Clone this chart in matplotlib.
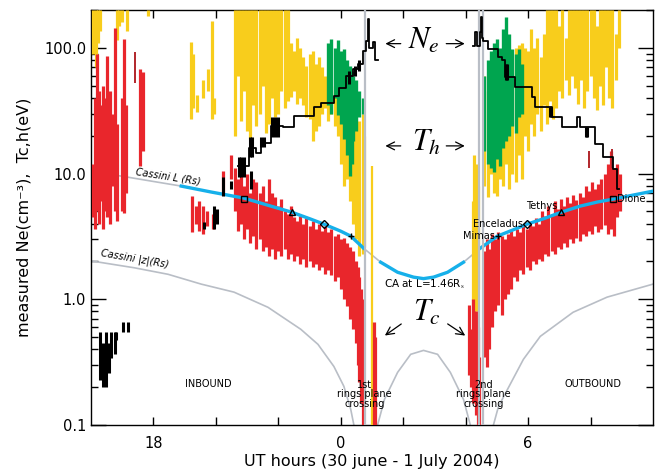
"""Cassini SOI pass: electron density and temperatures vs UT, with L and |z| shells."""

import matplotlib.pyplot as plt
from matplotlib.ticker import FixedLocator, LogLocator, NullFormatter

plt.rcParams["mathtext.fontset"] = "stix"

YELLOW = "#f8cd1c"
GREEN = "#00a54f"
RED = "#e9262c"
DARKRED = "#b1262b"
CYAN = "#16b0ea"
GREY = "#b9bec6"

# time = hours since 00 UT 30 June 2004 (24 -> 00 UT 1 July)

# Cassini L shell (Rs)
L_T = [16.0, 16.97, 17.93, 18.89, 19.85, 20.90, 21.76, 22.43, 23.04, 23.46, 24.0,
       24.32, 24.73, 25.28, 25.82, 26.33, 26.65, 26.97, 27.42, 27.93, 28.47, 29.02,
       29.50, 29.97, 30.55, 31.06, 31.67, 32.21, 32.72, 33.36, 34.0]
L_RS = [10.28, 9.55, 8.71, 7.95, 7.13, 6.38, 5.51, 4.93, 4.34, 3.96, 3.48,
        3.18, 2.55, 1.97, 1.64, 1.50, 1.46, 1.50, 1.64, 1.97, 2.55, 3.18,
        3.55, 3.96, 4.42, 4.93, 5.51, 5.93, 6.26, 6.74, 7.25]
CYAN_SPANS = [(18.8, 24.75), (25.2, 27.95), (28.45, 34.1)]

# Cassini |z| (Rs), three arcs between ring plane crossings
Z_IN_T = [16.0, 17.39, 18.47, 19.53, 20.58, 21.67, 22.72, 23.27, 23.78, 24.10, 24.32, 24.42, 24.5]
Z_IN = [2.02, 1.78, 1.58, 1.32, 1.14, 0.863, 0.577, 0.438, 0.292, 0.203, 0.133, 0.10, 0.07]
Z_MID_T = [25.1, 25.18, 25.4, 25.82, 26.24, 26.65, 27.10, 27.51, 27.93, 28.15, 28.22]
Z_MID = [0.07, 0.10, 0.16, 0.262, 0.365, 0.392, 0.365, 0.262, 0.16, 0.10, 0.07]
Z_OUT_T = [28.82, 28.89, 29.05, 29.34, 29.85, 30.39, 31.44, 32.53, 34.0]
Z_OUT = [0.07, 0.10, 0.14, 0.192, 0.333, 0.507, 0.788, 1.04, 1.32]

CROSSING_T = [24.78, 28.44, 28.57]

# moons on the L curve
MOONS = ["Dione", "Tethys", "Enceladus", "Mimas"]
MOON_MARK = ["s", "^", "D", "+"]
MOON_L = [6.3, 4.93, 3.96, 3.18]
MOON_T_IN = [20.90, 22.43, 23.46, 24.32]
MOON_T_OUT = [32.72, 31.06, 29.97, 29.02]

# hot electron temperature Th, yellow (time, low, high)
YEL_T = [16.08, 16.15, 16.22, 16.30, 16.84, 16.90, 17.00, 17.15, 17.83,
         19.21, 19.28, 19.40, 19.58, 19.74, 19.88, 19.94,
         20.6, 20.7, 20.8, 20.9, 21.0, 21.1, 21.2, 21.3, 21.4, 21.5, 21.6, 21.7, 21.8,
         21.9, 22.0, 22.1, 22.2, 22.3, 22.4, 22.5, 22.6, 22.7, 22.8, 22.9, 23.0, 23.1,
         23.2, 23.3, 23.4, 23.5, 23.6, 23.7, 23.8, 23.9, 24.0, 24.1, 24.2, 24.3, 24.4,
         24.5, 24.6, 24.7, 24.75,
         28.22, 28.28, 28.34, 28.40,
         28.6, 28.7, 28.8, 28.9, 29.0, 29.1, 29.2, 29.3, 29.4, 29.5, 29.6, 29.7, 29.8,
         29.9, 30.0, 30.1, 30.2, 30.3, 30.4, 30.5, 30.6, 30.7, 30.8, 30.9, 31.0, 31.1,
         31.2, 31.3, 31.4, 31.5, 31.6, 31.7, 31.8, 31.9, 32.0, 32.1, 32.2, 32.3, 32.4,
         32.5, 32.6, 32.7, 32.8, 32.9]
YEL_LO = [90, 70, 110, 135, 115, 150, 160, 135, 180,
          27, 33, 31, 40, 45, 27, 30,
          20, 60, 26, 45, 22, 19, 35, 24, 30, 50, 21, 25, 40,
          28, 30, 45, 33, 38, 41, 45, 36, 40, 35, 28, 27, 18,
          22, 24, 30, 33, 26, 30, 24, 20, 12, 8, 9, 6, 4,
          3, 2.2, 2.3, 2.6,
          0.9, 0.73, 0.8, 1.2,
          8, 6.5, 10, 7, 6.6, 9, 8, 12, 7.5, 10, 8.5, 14, 9,
          20, 15, 25, 20, 30, 22, 35, 25, 38, 27, 33, 45, 40,
          55, 42, 60, 48, 36, 55, 33, 45, 60, 40, 32, 50, 35,
          70, 40, 33, 55, 100]
YEL_HI = [200, 200, 200, 200, 200, 200, 200, 200, 200,
          112, 90, 42, 55, 68, 165, 40,
          200, 200, 200, 200, 200, 200, 200, 200, 200, 200, 200, 200, 200,
          200, 200, 200, 200, 200, 110, 95, 120, 100, 85, 72, 90, 95,
          75, 85, 70, 60, 55, 45, 50, 42, 40, 38, 45, 35, 30,
          28, 26, 30, 20,
          6, 14, 12, 8,
          60, 45, 70, 55, 65, 75, 80, 100, 95, 90, 100, 105, 110,
          100, 95, 140, 100, 120, 85, 130, 200, 200, 200, 200, 150, 200,
          120, 200, 200, 200, 200, 200, 200, 200, 200, 200, 150, 200, 200,
          200, 200, 200, 130, 200]

# hot electron temperature Th, green
GRN_T = [23.6, 23.7, 23.8, 23.9, 24.0, 24.1, 24.2, 24.3, 24.35, 24.4, 24.5, 24.6, 24.7,
         28.6, 28.7, 28.8, 28.9, 29.0, 29.1, 29.2, 29.3, 29.4, 29.5, 29.6, 29.7, 29.8]
GRN_LO = [35, 30, 40, 29, 25, 19, 14, 9.6, 12, 18, 22, 28, 30,
          15, 12, 11, 10.3, 13, 11.5, 16, 18, 20, 24, 21, 28, 30]
GRN_HI = [110, 118, 100, 115, 95, 98, 80, 72, 65, 60, 55, 45, 40,
          60, 80, 95, 110, 118, 100, 140, 176, 130, 98, 90, 98, 75]

# cold electron temperature Tc, red
RED_T = [16.08, 16.14, 16.20, 16.26, 16.32, 16.38, 16.44, 16.50, 16.56, 16.62, 16.68,
         16.76, 16.84, 16.98, 17.06, 17.13, 17.56, 17.66,
         19.25, 19.35, 19.45, 19.60, 19.72, 19.90, 20.23,
         20.5, 20.6, 20.7, 20.8, 20.9, 21.0, 21.1, 21.2, 21.3, 21.4, 21.5, 21.6, 21.7,
         21.8, 21.9, 22.0, 22.1, 22.2, 22.3, 22.4, 22.5, 22.6, 22.7, 22.8, 22.9, 23.0,
         23.1, 23.2, 23.3, 23.4, 23.5, 23.6, 23.7, 23.8, 23.9, 24.0, 24.1, 24.2, 24.3,
         24.4, 24.5, 24.55, 24.6, 24.65, 24.7, 25.05, 25.1,
         28.12, 28.18, 28.25, 28.32, 28.40, 28.44,
         28.62, 28.68, 28.75, 28.85, 28.95, 29.05, 29.15, 29.25, 29.35, 29.45, 29.55,
         29.65, 29.75, 29.85, 29.95, 30.05, 30.15, 30.25, 30.35, 30.45, 30.55, 30.65,
         30.75, 30.85, 30.95, 31.05, 31.15, 31.25, 31.35, 31.45, 31.55, 31.65, 31.75,
         31.85, 31.95, 32.05, 32.15, 32.25, 32.35, 32.45, 32.55, 32.65, 32.75, 32.85,
         32.95]
RED_LO = [4.5, 3.6, 5, 4, 6, 3.6, 5, 4.5, 7, 4, 8,
          5, 4.2, 5, 4.9, 7, 11.5, 15,
          3.4, 4, 3.5, 3.3, 3.8, 3.6, 7,
          9, 5, 3.5, 4, 3, 3.6, 2.8, 3.2, 2.5, 3, 2.4, 2.6, 2.2,
          2.5, 2.1, 2.4, 2.2, 2.5, 2.1, 2.3, 2.0, 2.2, 1.9, 2.1, 1.8, 2.0,
          1.8, 1.9, 1.7, 1.8, 1.6, 1.7, 1.55, 1.4, 1.5, 1.2, 1.0, 0.88, 0.7,
          0.58, 0.45, 0.3, 0.22, 0.15, 0.09, 0.09, 0.09,
          0.25, 0.2, 0.15, 0.12, 0.09, 0.09,
          0.35, 0.29, 0.4, 0.6, 0.8, 0.9, 0.75, 1.0, 1.1, 1.2, 1.5,
          1.4, 1.7, 1.6, 1.8, 1.7, 2.0, 1.9, 2.1, 2.0, 2.3, 2.2,
          2.4, 2.3, 2.6, 2.5, 2.8, 2.6, 3.0, 2.8, 3.1, 2.9, 3.3,
          3.2, 3.5, 3.3, 3.8, 3.4, 3.6, 3.9, 3.3, 3.6, 3.2, 4.5,
          5.0]
RED_HI = [12, 40, 90, 45, 35, 50, 40, 86, 35, 45, 30,
          145, 25, 40, 118, 35, 68, 64,
          6.6, 5.5, 6, 5.5, 5.0, 4.8, 10.5,
          14, 11, 9, 10.8, 8, 10, 7, 9, 8.6, 7, 8, 6, 9,
          7, 6.5, 5.5, 6.3, 5, 4.8, 5.5, 4.5, 4.2, 4.6, 4, 4.4, 3.8,
          4.2, 3.6, 4, 3.5, 3.8, 3.4, 3.6, 3.2, 3.3, 3.0, 3.1, 2.8, 2.6,
          2.4, 2.0, 1.8, 1.5, 1.2, 1.0, 0.66, 0.5,
          0.9, 0.58, 1.0, 0.8, 0.6, 0.35,
          2.4, 3.0, 2.5, 3.3, 3.0, 3.4, 3.2, 3.0, 3.3, 3.5, 3.2,
          3.6, 3.4, 3.8, 3.6, 4.0, 3.8, 4.4, 4.0, 5.0, 4.6, 5.5,
          4.8, 6.0, 5.2, 6.3, 5.5, 6.5, 5.8, 6.8, 6.2, 7.0, 6.5,
          8.0, 7.2, 8.6, 7.5, 8.2, 9.0, 10, 12, 15, 11, 12,
          10]
DRED_T = [17.40, 31.95, 32.70]
DRED_LO = [53, 11, 11]
DRED_HI = [93, 15, 15.7]

# electron density Ne, black: step traces
NE_IN_T = [20.71, 21.06, 21.30, 21.45, 21.76, 22.15, 22.50, 23.14, 23.36, 23.78, 23.94,
           24.16, 24.38, 24.54, 24.70, 24.80, 24.87, 24.90, 25.02, 25.10, 25.18]
NE_IN = [11.5, 16.0, 14.5, 17.5, 24, 23.5, 28.7, 33.9, 36.5, 41.5, 48,
         60, 68, 75, 95, 113, 170, 100, 111, 80, 80]
NE_OUT_T = [28.22, 28.30, 28.36, 28.45, 28.48, 28.52, 28.57, 28.70, 29.05, 29.18, 29.27,
            29.59, 30.13, 30.23, 30.77, 31.09, 31.57, 31.67, 32.15, 32.40, 32.72, 32.85, 32.9]
NE_OUT = [104, 133, 104, 133, 176, 120, 114, 98, 85, 80, 58.7,
          48.9, 40.7, 33.9, 28.2, 23.5, 28.2, 23.5, 17.2, 13.5, 10.9, 7.5, 7.5]
# Ne scatter / thick segments (time, low, high)
NE_BAR_T = [16.28, 16.39, 16.49, 16.57, 16.65, 16.76, 16.81, 17.03, 17.19,
            19.62, 19.94, 20.05, 20.23, 20.49, 21.12,
            20.75, 20.82, 20.90, 21.10, 21.16, 21.45, 21.55, 21.80, 21.90, 22.00,
            24.25, 24.45, 24.60,
            29.30, 29.33, 30.71, 30.74, 31.85, 31.90]
NE_BAR_LO = [0.23, 0.20, 0.20, 0.26, 0.34, 0.37, 0.47, 0.55, 0.55,
             3.6, 3.6, 4.0, 6.6, 7.5, 7.5,
             9.4, 9.4, 9.4, 13.5, 13.5, 16.3, 16.3, 19.5, 19.5, 19.5,
             52, 60, 65,
             56, 56, 28.2, 28.2, 19.5, 19.5]
NE_BAR_HI = [0.55, 0.45, 0.55, 0.45, 0.55, 0.55, 0.55, 0.66, 0.66,
             4.1, 5.5, 5.2, 9.4, 8.8, 10.5,
             13.5, 13.5, 13.5, 19.5, 19.5, 19.5, 19.5, 28, 28, 28,
             65, 72, 80,
             75, 75, 33.9, 33.9, 23.5, 23.5]


def main():
    fig = plt.figure(figsize=(6.67, 4.72), dpi=100)
    ax = fig.add_axes([0.1364, 0.0996, 0.8426, 0.8792])
    ax.set_yscale("log")

    # geometry curves
    ax.plot(L_T, L_RS, color=GREY, lw=1.2, zorder=2)
    for a, b in CYAN_SPANS:
        seg = [(t, v) for t, v in zip(L_T, L_RS) if a <= t <= b]
        ax.plot([p[0] for p in seg], [p[1] for p in seg], color=CYAN, lw=2.4, zorder=5)
    for t, v in [(Z_IN_T, Z_IN), (Z_MID_T, Z_MID), (Z_OUT_T, Z_OUT)]:
        ax.plot(t, v, color=GREY, lw=1.2, zorder=2)
    ax.vlines(CROSSING_T, 0.05, 300, colors=GREY, lw=1.6, zorder=6)

    # measurements
    ax.vlines(YEL_T, YEL_LO, YEL_HI, colors=YELLOW, lw=2.3, zorder=3)
    ax.vlines([25.0], [0.09], [11.5], colors=YELLOW, lw=1.6, zorder=3)
    ax.vlines(GRN_T, GRN_LO, GRN_HI, colors=GREEN, lw=2.4, zorder=4)
    ax.vlines(RED_T, RED_LO, RED_HI, colors=RED, lw=2.3, zorder=4)
    ax.vlines(DRED_T, DRED_LO, DRED_HI, colors=DARKRED, lw=1.4, zorder=4)
    ax.step(NE_IN_T, NE_IN, where="post", color="k", lw=1.3, zorder=7)
    ax.step(NE_OUT_T, NE_OUT, where="post", color="k", lw=1.3, zorder=7)
    ax.vlines(NE_BAR_T, NE_BAR_LO, NE_BAR_HI, colors="k", lw=2.2, zorder=7)

    # moons
    for name, mk, lval, tin, tout in zip(MOONS, MOON_MARK, MOON_L, MOON_T_IN, MOON_T_OUT):
        for t in (tin, tout):
            ax.plot(t, lval, marker=mk, ms=5 if mk != "D" else 4, mfc="none",
                    mec="k", mew=1.0, zorder=8)
    ax.text(32.85, 6.3, "Dione", fontsize=7, va="center", ha="left", zorder=9)
    ax.text(30.95, 5.05, "Tethys", fontsize=7, va="bottom", ha="right", zorder=9)
    ax.text(29.85, 4.0, "Enceladus", fontsize=7, va="center", ha="right", zorder=9)
    ax.text(28.95, 3.2, "Mimas", fontsize=7, va="center", ha="right", zorder=9)

    # annotations
    ax.text(18.47, 9.5, "Cassini L (Rs)", fontsize=7, style="italic", rotation=-9,
            ha="center", va="center")
    ax.text(17.39, 2.1, "Cassini |z|(Rs)", fontsize=7, style="italic", rotation=-10,
            ha="center", va="center")
    ax.text(26.68, 1.32, "CA at L=1.46R$_\\mathrm{s}$", fontsize=7.5, ha="center", va="center")
    ax.text(26.65, 114, "$N_e$", fontsize=22, ha="center", va="center")
    ax.text(26.75, 17.8, "$T_h$", fontsize=22, ha="center", va="center")
    ax.text(26.75, 0.78, "$T_c$", fontsize=22, ha="center", va="center")
    arrow = dict(arrowstyle="->", lw=0.9, color="k", mutation_scale=14)
    for yv in (108, 16.6):
        ax.annotate("", xy=(25.34, yv), xytext=(26.01, yv), arrowprops=arrow)
        ax.annotate("", xy=(28.06, yv), xytext=(27.29, yv), arrowprops=arrow)
    ax.annotate("", xy=(25.34, 0.5), xytext=(26.01, 0.655), arrowprops=arrow)
    ax.annotate("", xy=(28.06, 0.5), xytext=(27.35, 0.655), arrowprops=arrow)

    ax.text(19.75, 0.21, "INBOUND", fontsize=7, ha="center", va="center")
    ax.text(32.08, 0.21, "OUTBOUND", fontsize=7, ha="center", va="center")
    ax.text(24.77, 0.175, "1st\nrings plane\ncrossing", fontsize=7, ha="center",
            va="center", linespacing=0.95, zorder=9)
    ax.text(28.57, 0.175, "2nd\nrings plane\ncrossing", fontsize=7, ha="center",
            va="center", linespacing=0.95, zorder=9)

    # axes
    ax.set_xlim(16, 34)
    ax.set_ylim(0.1, 200)
    ax.xaxis.set_major_locator(FixedLocator([18, 20, 22, 24, 26, 28, 30, 32]))
    ax.set_xticklabels(["18", "", "", "0", "", "", "6", ""])
    ax.yaxis.set_major_locator(FixedLocator([0.1, 1, 10, 100]))
    ax.set_yticklabels(["0.1", "1.0", "10.0", "100.0"])
    ax.yaxis.set_minor_locator(LogLocator(base=10, subs=range(2, 10)))
    ax.yaxis.set_minor_formatter(NullFormatter())
    ax.tick_params(axis="both", which="both", direction="in", top=True, right=True,
                   labelsize=10.5, width=1.0)
    ax.tick_params(axis="y", which="major", length=11)
    ax.tick_params(axis="y", which="minor", length=5)
    ax.tick_params(axis="x", which="major", length=6, pad=8)
    for s in ax.spines.values():
        s.set_linewidth(1.0)

    ax.set_xlabel("UT hours (30 june - 1 July 2004)", fontsize=11.5, labelpad=2)
    ax.set_ylabel("measured Ne(cm\u207b\u00b3),  Tc,h(eV)", fontsize=11.5, labelpad=9)

    fig.savefig("out.png", dpi=100)


if __name__ == "__main__":
    main()
